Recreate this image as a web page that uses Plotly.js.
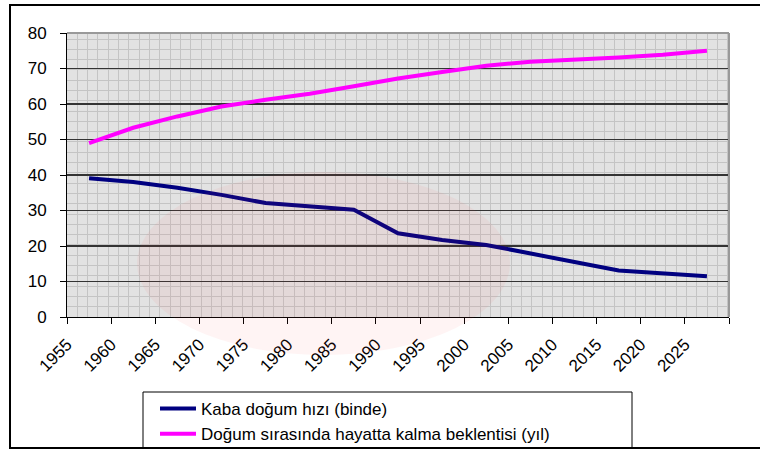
<!DOCTYPE html>
<html>
<head>
<meta charset="utf-8">
<script src="https://cdn.plot.ly/plotly-3.0.1.min.js"></script>
<style>html,body{margin:0;padding:0;background:#fff;}#chart{width:760px;height:451px;}</style>
</head>
<body>
<div id="chart"></div>
<script>
// Period midpoints (5-year periods 1955-1960 ... 2025-2030)
const years = [1957.5, 1962.5, 1967.5, 1972.5, 1977.5, 1982.5, 1987.5, 1992.5, 1997.5, 2002.5, 2007.5, 2012.5, 2017.5, 2022.5, 2027.5];
const birthRate = [39.1, 38.0, 36.4, 34.4, 32.1, 31.1, 30.2, 23.6, 21.7, 20.3, 18.0, 15.5, 13.1, 12.4, 11.5];
const lifeExp = [49.0, 53.3, 56.5, 59.3, 61.2, 62.9, 65.0, 67.2, 69.0, 70.8, 71.9, 72.4, 73.1, 73.9, 75.0];
const tickYears = [1955, 1960, 1965, 1970, 1975, 1980, 1985, 1990, 1995, 2000, 2005, 2010, 2015, 2020, 2025, 2030];
const tickLabels = ['1955', '1960', '1965', '1970', '1975', '1980', '1985', '1990', '1995', '2000', '2005', '2010', '2015', '2020', '2025', ''];
const seriesNames = ['Kaba doğum hızı (binde)', 'Doğum sırasında hayatta kalma beklentisi (yıl)'];

const FONT = 'Liberation Sans, Arial, sans-serif';
const W = 760, H = 451, L = 67, R = 31, T = 33, B = 134;
const pw = W - L - R, ph = H - T - B;
const px = x => (x - L) / pw;
const py = y => (H - B - y) / ph;

const traces = [
  {x: years, y: birthRate, name: seriesNames[0], mode: 'lines', line: {color: '#000080', width: 4}},
  {x: years, y: lifeExp, name: seriesNames[1], mode: 'lines', line: {color: '#ff00ff', width: 4}}
];

const layout = {
  width: W, height: H,
  margin: {l: L, r: R, t: T, b: B, pad: 0, autoexpand: false},
  paper_bgcolor: '#ffffff',
  plot_bgcolor: '#e2e2e2',
  font: {family: FONT, size: 17, color: '#000'},
  showlegend: true,
  legend: {
    xref: 'container', yref: 'container',
    x: 155 / W, y: 1 - 391 / H, xanchor: 'left', yanchor: 'top',
    bgcolor: 'rgba(0,0,0,0)', borderwidth: 0,
    font: {family: FONT, size: 17, color: '#000'},
    itemwidth: 36, tracegroupgap: 0
  },
  xaxis: {
    range: [1955, 2030], tickmode: 'array', tickvals: tickYears, ticktext: tickLabels,
    tickangle: -45, ticks: 'outside', ticklen: 6, tickcolor: '#000', tickwidth: 1,
    showline: true, linecolor: '#000', linewidth: 1, mirror: false, automargin: false,
    showgrid: false, zeroline: false, fixedrange: true, ticklabelstandoff: 4,
    tickfont: {family: FONT, size: 17, color: '#000'},
    minor: {dtick: 1.17, tick0: 1955, showgrid: true, gridcolor: '#c4c4c4', gridwidth: 1, ticks: ''}
  },
  yaxis: {
    range: [0, 80], dtick: 10, tick0: 0, ticks: 'outside', ticklen: 6, tickcolor: '#000',
    showline: true, linecolor: '#000', linewidth: 1, automargin: false,
    showgrid: true, gridcolor: '#333333', gridwidth: 1.5, zeroline: false, fixedrange: true,
    ticklabelstandoff: 10,
    tickfont: {family: FONT, size: 17, color: '#000'},
    minor: {dtick: 2.9, tick0: 0, showgrid: true, gridcolor: '#c4c4c4', gridwidth: 1, ticks: ''}
  },
  shapes: [
    // plot area top/right border
    {type: 'line', xref: 'paper', yref: 'paper', x0: 0, x1: 1, y0: 1, y1: 1, line: {color: '#999', width: 2}},
    {type: 'line', xref: 'paper', yref: 'paper', x0: 1, x1: 1, y0: 0, y1: 1, line: {color: '#999', width: 2}},
    // faint watermark ellipse
    {type: 'circle', xref: 'paper', yref: 'paper', x0: px(137), x1: px(510), y0: py(355), y1: py(172),
     fillcolor: 'rgba(255,60,60,0.06)', line: {width: 0}, layer: 'above'},
    // legend box
    {type: 'rect', xref: 'paper', yref: 'paper', x0: px(143), x1: px(632), y0: py(448), y1: py(392),
     fillcolor: 'rgba(255,255,255,0.6)', line: {color: '#000', width: 1}, layer: 'below'},
    // outer chart frame
    {type: 'rect', xref: 'paper', yref: 'paper', x0: px(10), x1: px(762), y0: py(448), y1: py(5),
     fillcolor: 'rgba(0,0,0,0)', line: {color: '#000', width: 2}, layer: 'above'}
  ]
};

Plotly.newPlot('chart', traces, layout, {displayModeBar: false, staticPlot: true});
</script>
</body>
</html>
